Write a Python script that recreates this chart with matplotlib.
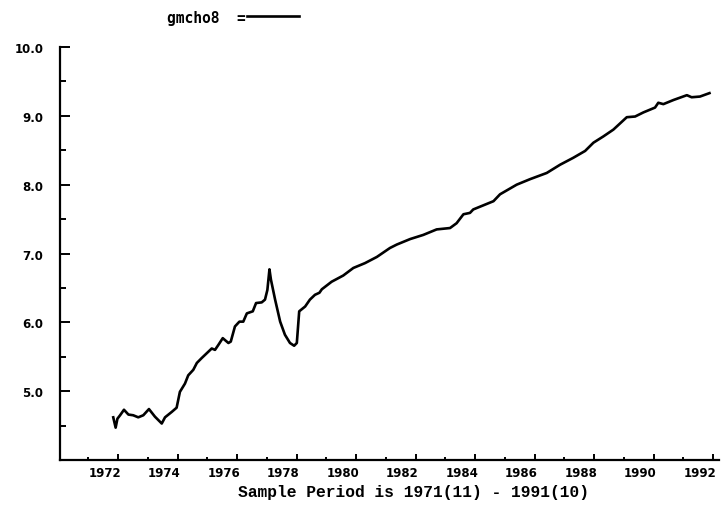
import matplotlib
matplotlib.use("Agg")
import matplotlib.pyplot as plt
from matplotlib.transforms import ScaledTranslation

# series (decimal year, value)
years = [
    1971.84, 1971.92, 1971.98, 1972.07, 1972.20, 1972.35, 1972.51, 1972.68,
    1972.85, 1973.04, 1973.24, 1973.47, 1973.58, 1973.81, 1973.97, 1974.08,
    1974.25, 1974.36, 1974.53, 1974.65, 1974.81, 1974.98, 1975.15, 1975.26,
    1975.37, 1975.52, 1975.71, 1975.79, 1975.93, 1976.08, 1976.21, 1976.33,
    1976.53, 1976.64, 1976.83, 1976.94, 1977.02, 1977.09, 1977.14, 1977.28,
    1977.45, 1977.61, 1977.78, 1977.92, 1978.01, 1978.09, 1978.29, 1978.45,
    1978.62, 1978.77, 1978.85, 1979.18, 1979.57, 1979.91, 1980.30, 1980.70,
    1981.14, 1981.37, 1981.82, 1982.26, 1982.71, 1983.16, 1983.38, 1983.61,
    1983.83, 1983.94, 1984.28, 1984.62, 1984.84, 1985.40, 1985.85, 1986.41,
    1986.86, 1987.30, 1987.70, 1987.98, 1988.31, 1988.65, 1989.10, 1989.38,
    1989.66, 1990.05, 1990.16, 1990.33, 1990.67, 1991.12, 1991.28, 1991.56,
    1991.88,
]
gmcho8 = [
    4.62, 4.47, 4.60, 4.65, 4.73, 4.66, 4.65, 4.62,
    4.65, 4.74, 4.63, 4.53, 4.62, 4.70, 4.76, 4.99,
    5.11, 5.23, 5.31, 5.41, 5.48, 5.55, 5.62, 5.60,
    5.67, 5.77, 5.70, 5.72, 5.94, 6.01, 6.01, 6.13,
    6.16, 6.28, 6.29, 6.33, 6.47, 6.77, 6.62, 6.33,
    6.01, 5.82, 5.70, 5.66, 5.70, 6.16, 6.23, 6.33,
    6.40, 6.43, 6.48, 6.59, 6.68, 6.79, 6.86, 6.95,
    7.08, 7.13, 7.21, 7.27, 7.35, 7.37, 7.44, 7.57,
    7.59, 7.64, 7.70, 7.76, 7.86, 8.00, 8.08, 8.17,
    8.29, 8.39, 8.49, 8.61, 8.70, 8.80, 8.98, 8.99,
    9.05, 9.12, 9.19, 9.17, 9.23, 9.30, 9.27, 9.28,
    9.33,
]

x_major = list(range(1972, 1993, 2))
x_minor = list(range(1971, 1993))
y_major = [5, 6, 7, 8, 9, 10]
y_minor = [4.5, 5.5, 6.5, 7.5, 8.5, 9.5]

fig = plt.figure(figsize=(7.21, 5.10), dpi=100)
ax = fig.add_axes([60 / 721, 49 / 510, 659 / 721, 413 / 510])

ax.plot(years, gmcho8, color="black", linewidth=1.9, label="gmcho8  =")

ax.set_xlim(1970.05, 1992.2)
ax.set_ylim(4.0, 10.0)

for side in ("top", "right"):
    ax.spines[side].set_visible(False)
for side in ("left", "bottom"):
    ax.spines[side].set_linewidth(1.6)

ax.set_xticks(x_major)
ax.set_xticks(x_minor, minor=True)
ax.set_yticks(y_major)
ax.set_yticks(y_minor, minor=True)
ax.set_yticklabels([f"{v:.1f}" for v in y_major])

ax.tick_params(axis="both", which="both", direction="in", width=1.4, colors="black")
ax.tick_params(axis="y", which="major", length=7, pad=12)
ax.tick_params(axis="y", which="minor", length=4)
ax.tick_params(axis="x", which="major", length=4, pad=4)
ax.tick_params(axis="x", which="minor", length=2)

for lab in ax.get_xticklabels() + ax.get_yticklabels():
    lab.set_fontfamily("DejaVu Sans")
    lab.set_fontweight("bold")
    lab.set_fontsize(8.5)

# year labels sit a little left of their ticks in the original
shift = ScaledTranslation(-13 / 100, 0, fig.dpi_scale_trans)
for lab in ax.get_xticklabels():
    lab.set_transform(lab.get_transform() + shift)

fig.legend(loc="center", bbox_to_anchor=(233 / 721, 1 - 18 / 510),
           markerfirst=False, frameon=False, handlelength=3.6, handletextpad=0.1,
           prop={"family": "DejaVu Sans Mono", "weight": "bold", "size": 10.5})

fig.text(413 / 721, 1 - 493 / 510, "Sample Period is 1971(11) - 1991(10)",
         ha="center", va="center", fontfamily="Liberation Mono",
         fontweight="bold", fontsize=11.7)

fig.savefig("out.png", dpi=100, facecolor="white")
